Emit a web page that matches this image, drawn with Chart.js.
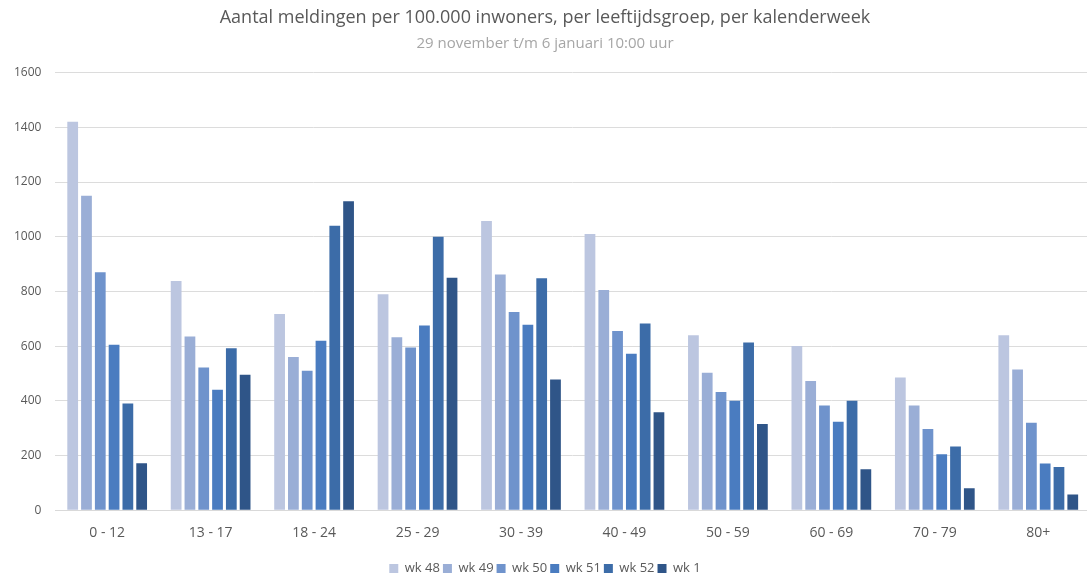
<!DOCTYPE html>
<html>
<head>
<meta charset="utf-8">
<script src="https://cdn.jsdelivr.net/npm/chart.js@4/dist/chart.umd.min.js"></script>
<style>
  html, body { margin: 0; padding: 0; background: #fff; overflow: hidden; }
  #wrap { width: 1090px; height: 585px; }
</style>
</head>
<body>
<div id="wrap"><canvas id="chart"></canvas></div>
<script>
// age groups and weekly values (per 100.000 inhabitants)
const ageGroups = ['0 - 12', '13 - 17', '18 - 24', '25 - 29', '30 - 39', '40 - 49', '50 - 59', '60 - 69', '70 - 79', '80+'];
const weekLabels = ['wk 48', 'wk 49', 'wk 50', 'wk 51', 'wk 52', 'wk 1'];
const wk48 = [1420, 838, 717, 790, 1057, 1010, 640, 600, 485, 640];
const wk49 = [1150, 635, 560, 632, 862, 805, 503, 472, 383, 514];
const wk50 = [870, 522, 510, 595, 725, 655, 432, 383, 297, 320];
const wk51 = [605, 440, 620, 675, 678, 572, 400, 323, 205, 171];
const wk52 = [390, 592, 1040, 1000, 848, 683, 613, 400, 233, 158];
const wk1 = [172, 495, 1130, 850, 478, 358, 315, 150, 80, 57];
const yTicks = [0, 200, 400, 600, 800, 1000, 1200, 1400, 1600];

const weekColors = ['#bcc6e0', '#9aaed6', '#6f93cc', '#4a7cc0', '#3c6ca8', '#2f5588'];
const series = [wk48, wk49, wk50, wk51, wk52, wk1];

const ctx = document.getElementById('chart').getContext('2d');
new Chart(ctx, {
    type: 'bar',
    data: {
        labels: ageGroups,
        datasets: series.map((data, i) => ({
            label: weekLabels[i],
            data,
            backgroundColor: weekColors[i],
            categoryPercentage: 0.8,
            barPercentage: 0.78,
        })),
    },
    options: {
        responsive: true,
        maintainAspectRatio: false,
        animation: false,
        layout: { padding: { top: 2, left: 0, right: 0, bottom: 0 } },
        plugins: {
            title: {
                display: true,
                text: 'Aantal meldingen per 100.000 inwoners, per leeftijdsgroep, per kalenderweek',
                color: '#595959',
                font: { family: 'Open Sans', size: 18, weight: 'normal' },
                padding: { top: 5, bottom: 6 },
            },
            subtitle: {
                display: true,
                text: '29 november t/m 6 januari 10:00 uur',
                color: '#a6a6a6',
                font: { family: 'Open Sans', size: 15 },
                padding: { top: 0, bottom: 20 },
            },
            legend: {
                position: 'bottom',
                labels: {
                    color: '#595959',
                    font: { family: 'Open Sans', size: 13 },
                    boxWidth: 9,
                    boxHeight: 9,
                    padding: 3,
                },
            },
            tooltip: { enabled: false },
        },
        scales: {
            x: {
                grid: { display: false, drawTicks: false },
                border: { color: '#d9d9d9' },
                ticks: {
                    color: '#595959',
                    font: { family: 'Open Sans', size: 14 },
                    padding: 14,
                },
                afterFit: axis => { axis.height += 4; },
            },
            y: {
                min: 0,
                max: 1600,
                afterBuildTicks: axis => { axis.ticks = yTicks.map(v => ({ value: v })); },
                grid: { color: '#dcdcdc', drawTicks: false },
                border: { display: false },
                ticks: {
                    color: '#595959',
                    font: { family: 'Open Sans', size: 12 },
                    padding: 14,
                    callback: v => String(v),
                },
            },
        },
    },
});
</script>
</body>
</html>
